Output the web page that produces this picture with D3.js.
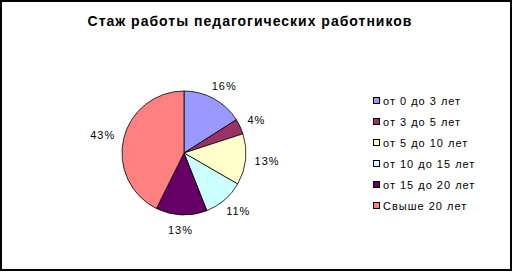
<!DOCTYPE html>
<html>
<head>
<meta charset="utf-8">
<script src="https://cdn.jsdelivr.net/npm/d3@7"></script>
<style>
body { margin: 0; background: #fff; }
text { font-family: "Liberation Sans", Arial, sans-serif; }
</style>
</head>
<body>
<svg id="svg1" width="513" height="272"></svg>
<script>
var title = "Стаж работы педагогических работников";
var labels = ["от 0 до 3 лет","от 3 до 5 лет","от 5 до 10 лет","от 10 до 15 лет","от 15 до 20 лет","Свыше 20 лет"];
// number of teachers in each group (gives 16%, 4%, 13%, 11%, 13%, 43%)
var data = [12, 3, 10, 8, 10, 32];
var colors = ["#9999FF","#993366","#FFFFCC","#CCFFFF","#660066","#FF8080"];

var color = d3.scaleOrdinal().domain(labels).range(colors);
var total = d3.sum(data);
var svg = d3.select('#svg1');

// outer frame
svg.append("rect")
    .attr("x", 1).attr("y", 1)
    .attr("width", 510).attr("height", 269)
    .attr("fill", "#fff")
    .attr("stroke", "#000")
    .attr("stroke-width", 2);

svg.append("text")
    .text(title)
    .attr("x", 250).attr("y", 26)
    .attr("text-anchor", "middle")
    .style("font-size", "14px")
    .style("letter-spacing", "1px")
    .style("font-weight", "bold");

var r = 62;
var pie = d3.pie().sort(null);
var arc = d3.arc().innerRadius(0).outerRadius(r);
var g = svg.append("g").attr("transform", "translate(184,153)");

g.selectAll("path")
    .data(pie(data))
    .enter()
    .append("path")
    .attr("d", arc)
    .attr("fill", function(d,i) { return color(labels[i]); })
    .attr("stroke", "#000")
    .attr("stroke-width", 0.8);

// labels sit just outside the rim, box pushed away from the centre
g.selectAll("text")
    .data(pie(data))
    .enter()
    .append("text")
    .text(function(d) { return Math.round(d.value / total * 100) + "%"; })
    .style("font-size", "11px")
    .style("letter-spacing", "1px")
    .attr("text-anchor", "middle")
    .attr("x", function(d) {
        var a = midAngle(d);
        var w = this.getComputedTextLength();
        return Math.sin(a) * (r + 9) + Math.sin(a) * w / 2;
    })
    .attr("y", function(d) {
        var a = midAngle(d);
        return -Math.cos(a) * (r + 10) - Math.cos(a) * 5 + 4;
    });

var legend = svg.append("g").attr("transform", "translate(373,101)");
var item = legend.selectAll("g")
    .data(labels)
    .enter()
    .append("g")
    .attr("transform", function(d,i) { return "translate(0," + (i * 21) + ")"; });

item.append("rect")
    .attr("x", 0.5).attr("y", -3.5)
    .attr("width", 6).attr("height", 6)
    .attr("fill", function(d) { return color(d); })
    .attr("stroke", "#000")
    .attr("stroke-width", 1);

item.append("text")
    .text(function(d) { return d; })
    .attr("x", 10).attr("y", 4)
    .style("font-size", "11px")
    .style("letter-spacing", "1px");

function midAngle(d) {
    return d.startAngle + (d.endAngle - d.startAngle) / 2; }
</script>
</body>
</html>
